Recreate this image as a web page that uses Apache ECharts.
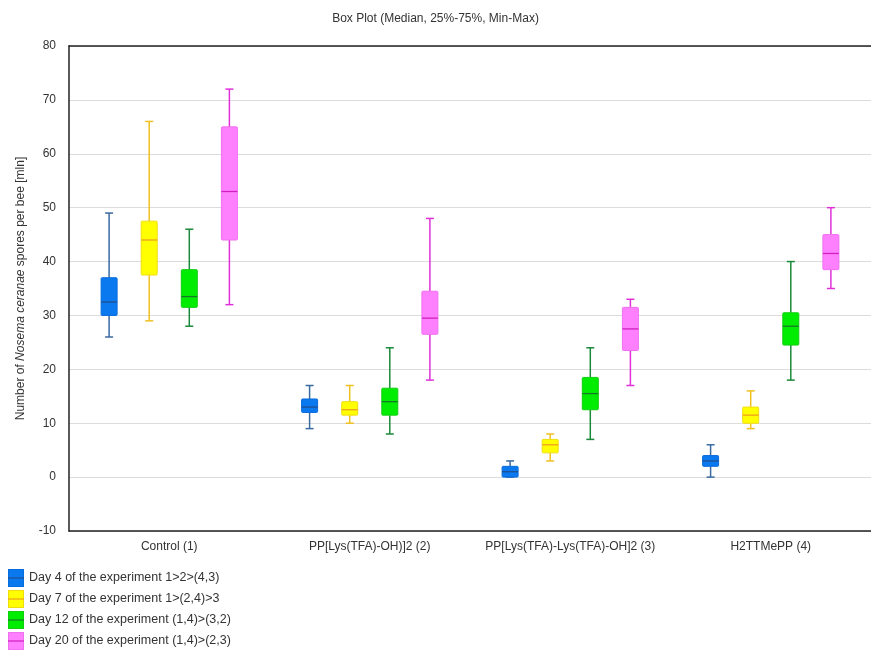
<!DOCTYPE html>
<html>
<head>
<meta charset="utf-8">
<script src="https://cdn.jsdelivr.net/npm/echarts@6/dist/echarts.min.js"></script>
<style>html,body{margin:0;padding:0;background:#fff}#c{width:871px;height:650px}</style>
</head>
<body>
<div id="c"></div>
<script>
const categories = ['Control (1)', 'PP[Lys(TFA)-OH)]2 (2)', 'PP[Lys(TFA)-Lys(TFA)-OH]2 (3)', 'H2TTMePP (4)'];
const seriesNames = ['Day 4 of the experiment 1>2>(4,3)', 'Day 7 of the experiment 1>(2,4)>3', 'Day 12 of the experiment (1,4)>(3,2)', 'Day 20 of the experiment (1,4)>(2,3)'];
// each item: [min, Q1, median, Q3, max]
const day4 = [[26, 30, 32.5, 37, 49], [9, 12, 13, 14.5, 17], [0, 0, 1, 2, 3], [0, 2, 3, 4, 6]];
const day7 = [[29, 37.5, 44, 47.5, 66], [10, 11.5, 12.5, 14, 17], [3, 4.5, 6, 7, 8], [9, 10, 11.5, 13, 16]];
const day12 = [[28, 31.5, 33.5, 38.5, 46], [8, 11.5, 14, 16.5, 24], [7, 12.5, 15.5, 18.5, 24], [18, 24.5, 28, 30.5, 40]];
const day20 = [[32, 44, 53, 65, 72], [18, 26.5, 29.5, 34.5, 48], [17, 23.5, 27.5, 31.5, 33], [35, 38.5, 41.5, 45, 50]];
const yTicks = { min: -10, max: 80, interval: 10 };

const fills = ['#0a78ee', '#ffff00', '#00ec00', '#ff80ff'];
const boxBorders = ['#0a6ddc', '#f2dc10', '#10d010', '#f070f0'];
const whiskers = ['#3a6aa0', '#f0c020', '#1a8a3a', '#e030d8'];
const medians = ['#1f4f90', '#f0a020', '#157a28', '#d020c0'];
const allData = [day4, day7, day12, day20];

function legendIcon(i) {
  const svg = '<svg xmlns="http://www.w3.org/2000/svg" width="16" height="18">' +
    '<rect x="0.5" y="0.5" width="15" height="17" fill="' + fills[i] + '" stroke="' + boxBorders[i] + '"/>' +
    '<line x1="0" y1="9" x2="16" y2="9" stroke="' + medians[i] + '" stroke-width="1.2"/></svg>';
  return 'image://data:image/svg+xml;charset=utf-8,' + encodeURIComponent(svg);
}

function makeRender(i) {
  return function (params, api) {
    const cat = api.value(0);
    const band = api.size([1, 0])[0];
    const offset = (i - 1.5) * band * 0.2;
    const cx = api.coord([cat, 0])[0] + offset;
    const y = k => api.coord([cat, api.value(k)])[1];
    const yMin = y(1), yQ1 = y(2), yMed = y(3), yQ3 = y(4), yMax = y(5);
    const hw = 8, cap = 4;
    const ws = { stroke: whiskers[i], lineWidth: 1.5 };
    return {
      type: 'group',
      children: [
        { type: 'line', shape: { x1: cx, y1: yMax, x2: cx, y2: yQ3 }, style: ws },
        { type: 'line', shape: { x1: cx, y1: yQ1, x2: cx, y2: yMin }, style: ws },
        { type: 'line', shape: { x1: cx - cap, y1: yMax, x2: cx + cap, y2: yMax }, style: ws },
        { type: 'line', shape: { x1: cx - cap, y1: yMin, x2: cx + cap, y2: yMin }, style: ws },
        { type: 'rect', shape: { x: cx - hw, y: yQ3, width: 2 * hw, height: yQ1 - yQ3, r: 1 },
          style: { fill: fills[i], stroke: boxBorders[i], lineWidth: 1 } },
        { type: 'line', shape: { x1: cx - hw, y1: yMed, x2: cx + hw, y2: yMed },
          style: { stroke: medians[i], lineWidth: 1.3 } }
      ]
    };
  };
}

const font = 'Liberation Sans, Arial, sans-serif';
const chart = echarts.init(document.getElementById('c'));
chart.setOption({
  animation: false,
  title: {
    text: 'Box Plot (Median, 25%-75%, Min-Max)',
    left: 'center', top: 8,
    textStyle: { fontFamily: font, fontSize: 12, fontWeight: 'normal', color: '#333' }
  },
  legend: {
    orient: 'vertical', left: 8, top: 569, padding: 0,
    itemWidth: 16, itemHeight: 18, itemGap: 3,
    textStyle: { fontFamily: font, fontSize: 12.5, color: '#333' },
    data: seriesNames.map((n, i) => ({ name: n, icon: legendIcon(i) }))
  },
  grid: { left: 69, top: 46, bottom: 119, right: -6 },
  xAxis: [{
    type: 'category', data: categories,
    axisLine: { onZero: false, lineStyle: { color: '#222', width: 1.5 } },
    axisTick: { inside: true, alignWithLabel: true, length: 4, lineStyle: { color: '#222' } },
    axisLabel: { interval: 0, fontFamily: font, fontSize: 12, color: '#333', margin: 10 },
    splitLine: { show: false }
  }, {
    type: 'category', data: categories, position: 'top',
    axisLine: { onZero: false, lineStyle: { color: '#222', width: 1.5 } },
    axisTick: { inside: true, alignWithLabel: true, length: 4, lineStyle: { color: '#222' } },
    axisLabel: { show: false },
    splitLine: { show: false }
  }],
  yAxis: {
    type: 'value', min: yTicks.min, max: yTicks.max, interval: yTicks.interval,
    axisLine: { show: true, lineStyle: { color: '#222', width: 1.5 } },
    axisTick: { show: false },
    axisLabel: { fontFamily: font, fontSize: 12, color: '#333', margin: 13 },
    splitLine: { lineStyle: { color: '#dcdcdc', width: 1 } },
    name: '{n|Number of }{i|Nosema ceranae}{n| spores per bee [mln]}',
    nameLocation: 'middle', nameGap: 42, nameRotate: 90,
    nameTextStyle: {
      rich: {
        n: { fontFamily: font, fontSize: 12, color: '#333' },
        i: { fontFamily: font, fontSize: 12, color: '#333', fontStyle: 'italic' }
      }
    }
  },
  series: allData.map((d, i) => ({
    name: seriesNames[i],
    type: 'custom',
    renderItem: makeRender(i),
    itemStyle: { color: fills[i] },
    encode: { x: 0, y: [1, 2, 3, 4, 5] },
    data: d.map((v, k) => [k].concat(v))
  }))
});
</script>
</body>
</html>
